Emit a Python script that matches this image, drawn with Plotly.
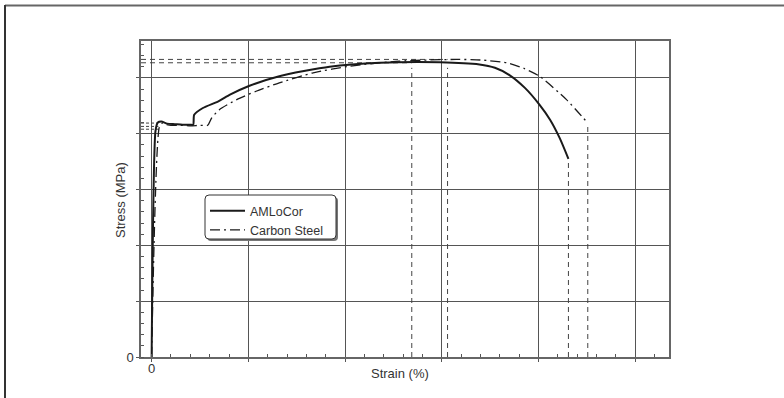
import plotly.graph_objects as go

# ---------------- data ----------------
amlocor_strain = [0, 0.2, 0.32, 0.5, 0.8, 1.2, 1.6, 2.0, 2.15, 2.2, 2.65, 3.45, 4.05, 5.0,
                  6.6, 9.2, 11.8, 14.9, 16.95, 17.75, 18.5, 19.3, 20.05, 20.6, 21.1, 21.55]
amlocor_stress = [0, 405, 420, 422, 418, 417, 416, 416, 416, 434, 446, 458, 470, 485,
                  503, 520, 527, 528, 524, 518, 505, 482, 452, 425, 392, 355]

steel_strain = [0, 0.4, 0.55, 0.7, 1.0, 1.5, 2.0, 2.5, 2.9, 3.1, 3.5, 4.4, 5.4, 6.6,
                8.35, 10.25, 12.8, 15.75, 17.0, 18.35, 19.25, 20.05, 21.45, 22.55]
steel_stress = [0, 412, 419, 417, 415, 415, 414, 415, 415, 428, 443, 461, 476, 491,
                509, 521, 530, 533, 532, 527, 517, 503, 461, 419]

uts_strain = [13.45, 15.3]        # uniform elongation markers
uts_stress = [527, 533]           # ultimate strength markers
fracture_strain = [21.55, 22.55]
fracture_stress = [355, 419]
yield_stress = [419, 413, 408]
yield_strain_end = [0.3, 0.35, 0.45]

x_ticks = [0, 5, 10, 15, 20, 25]
x_ticktext = ["0", "", "", "", "", ""]
y_ticks = [0, 100, 200, 300, 400, 500]
y_ticktext = ["0", "", "", "", "", ""]
x_range = [-0.55, 26.75]
y_range = [0, 566]

W, H = 784, 398
ML, MR, MT, MB = 141, 115, 41, 41
PW, PH = W - ML - MR, H - MT - MB
FONT = "Liberation Sans, Arial, sans-serif"


def px(x):
    return (x - ML) / PW


def py(y):
    return (H - MB - y) / PH


fig = go.Figure()

ref_style = dict(color="#444", width=1, dash="5px,4px")

# reference dashed lines
for s, e in zip(uts_stress, uts_strain):
    fig.add_trace(go.Scatter(x=[x_range[0], e], y=[s, s], mode="lines",
                             line=ref_style, showlegend=False, hoverinfo="skip"))
for e in uts_strain:
    fig.add_trace(go.Scatter(x=[e, e], y=[0, 518], mode="lines",
                             line=ref_style, showlegend=False, hoverinfo="skip"))
for e, s in zip(fracture_strain, fracture_stress):
    fig.add_trace(go.Scatter(x=[e, e], y=[0, s], mode="lines",
                             line=ref_style, showlegend=False, hoverinfo="skip"))
for s, e in zip(yield_stress, yield_strain_end):
    fig.add_trace(go.Scatter(x=[x_range[0], e], y=[s, s], mode="lines",
                             line=dict(color="#444", width=1, dash="3px,2px"),
                             showlegend=False, hoverinfo="skip"))

fig.add_trace(go.Scatter(x=amlocor_strain, y=amlocor_stress, mode="lines", name="AMLoCor",
                         line=dict(color="#1a1a1a", width=2, shape="spline", smoothing=0.6)))
fig.add_trace(go.Scatter(x=steel_strain, y=steel_stress, mode="lines", name="Carbon Steel",
                         line=dict(color="#1a1a1a", width=1.3, dash="10px,4px,2px,4px",
                                   shape="spline", smoothing=0.6)))


def rounded(x0, y0, x1, y1, r):
    return (f"M{px(x0 + r)},{py(y0)} L{px(x1 - r)},{py(y0)} "
            f"Q{px(x1)},{py(y0)} {px(x1)},{py(y0 + r)} L{px(x1)},{py(y1 - r)} "
            f"Q{px(x1)},{py(y1)} {px(x1 - r)},{py(y1)} L{px(x0 + r)},{py(y1)} "
            f"Q{px(x0)},{py(y1)} {px(x0)},{py(y1 - r)} L{px(x0)},{py(y0 + r)} "
            f"Q{px(x0)},{py(y0)} {px(x0 + r)},{py(y0)} Z")


shapes = [
    dict(type="path", xref="paper", yref="paper", path=rounded(207, 197, 338, 241, 4),
         fillcolor="#777", line=dict(width=0), layer="above"),
    dict(type="path", xref="paper", yref="paper", path=rounded(205, 195, 336, 239, 4),
         fillcolor="white", line=dict(color="#333", width=1), layer="above"),
    dict(type="line", xref="paper", yref="paper", x0=px(5), x1=px(784), y0=py(5.5), y1=py(5.5),
         line=dict(color="#666", width=2)),
    dict(type="line", xref="paper", yref="paper", x0=px(5), x1=px(5), y0=py(5), y1=py(398),
         line=dict(color="#333", width=2)),
]

annotations = [
    dict(text="Strain (%)", xref="paper", yref="paper", x=px(400), y=py(373),
         xanchor="center", yanchor="middle", showarrow=False,
         font=dict(family=FONT, size=13, color="#333")),
    dict(text="Stress (MPa)", xref="paper", yref="paper", x=px(120), y=py(200),
         xanchor="center", yanchor="middle", showarrow=False, textangle=-90,
         font=dict(family=FONT, size=13, color="#333")),
]

axis_common = dict(showline=True, linecolor="#666", linewidth=1.5, mirror=True,
                   showgrid=True, gridcolor="#555", gridwidth=1, zeroline=False,
                   tickmode="array", ticks="outside", ticklen=3, tickcolor="#555",
                   tickfont=dict(family=FONT, size=13, color="#333"))

fig.update_layout(
    width=W, height=H,
    margin=dict(l=ML, r=MR, t=MT, b=MB, autoexpand=False),
    paper_bgcolor="white", plot_bgcolor="white",
    shapes=shapes, annotations=annotations,
    xaxis=dict(range=x_range, tickvals=x_ticks, ticktext=x_ticktext, ticklabelstandoff=-4,
               minor=dict(tickmode="linear", tick0=0, dtick=1, ticks="inside", ticklen=3,
                          tickcolor="#555", showgrid=False),
               **axis_common),
    yaxis=dict(range=y_range, tickvals=y_ticks, ticktext=y_ticktext,
               minor=dict(tickmode="linear", tick0=0, dtick=20, ticks="inside", ticklen=3,
                          tickcolor="#555", showgrid=False),
               **axis_common),
    legend=dict(x=px(205), y=py(196), xanchor="left", yanchor="top",
                bgcolor="rgba(0,0,0,0)", borderwidth=0,
                font=dict(family=FONT, size=12.5, color="#333"),
                itemwidth=35, tracegroupgap=0),
    showlegend=True,
)

fig.write_html("out.html", config={"displayModeBar": False},
               post_script="document.body.style.margin='0';")
